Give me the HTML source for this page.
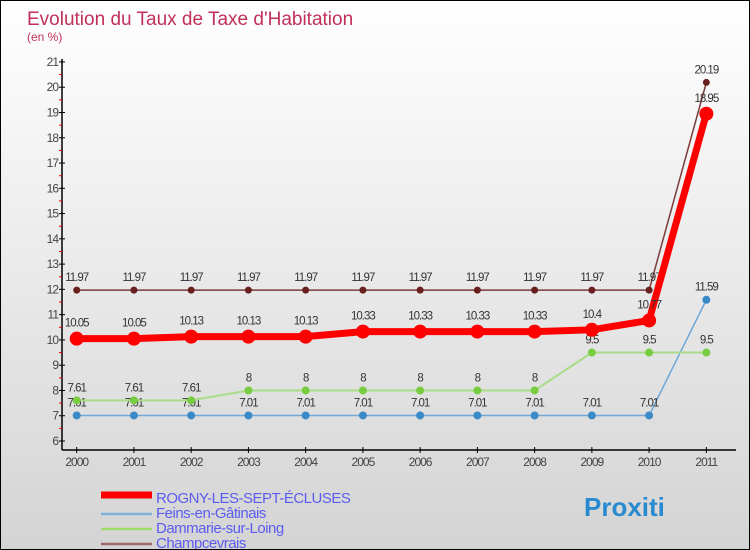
<!DOCTYPE html>
<html><head><meta charset="utf-8"><style>
body{margin:0}
#c{width:750px;height:550px;position:relative;overflow:hidden;background:linear-gradient(#ffffff,#d4d4d4);box-sizing:border-box;border:1px solid #000;font-family:"Liberation Sans",sans-serif}
svg{position:absolute;left:0;top:0}
</style></head><body>
<div id="c">
<svg id="s" width="750" height="550">
<text x="26" y="24" font-size="19" fill="#c0305a">Evolution du Taux de Taxe d'Habitation</text>
<text x="26" y="40" font-size="12" fill="#c0305a">(en %)</text>
</svg>
</div>
<script>
const years=[2000,2001,2002,2003,2004,2005,2006,2007,2008,2009,2010,2011];
const yTicks=[6,7,8,9,10,11,12,13,14,15,16,17,18,19,20,21];
const rogny=[10.05,10.05,10.13,10.13,10.13,10.33,10.33,10.33,10.33,10.4,10.77,18.95];
const feins=[7.01,7.01,7.01,7.01,7.01,7.01,7.01,7.01,7.01,7.01,7.01,11.59];
const dammarie=[7.61,7.61,7.61,8,8,8,8,8,8,9.5,9.5,9.5];
const champ=[11.97,11.97,11.97,11.97,11.97,11.97,11.97,11.97,11.97,11.97,11.97,20.19];
const seriesNames=["ROGNY-LES-SEPT-ÉCLUSES","Feins-en-Gâtinais","Dammarie-sur-Loing","Champcevrais"];
const X=i=>75.7+i*57.24, Y=v=>440-(v-6)*25.27;
const s=document.getElementById('s'),NS='http://www.w3.org/2000/svg';
function mk(t,a,p){const e=document.createElementNS(NS,t);for(const k in a)e.setAttribute(k,a[k]);(p||s).appendChild(e);return e;}
let ax=mk('line',{x1:61,y1:58,x2:61,y2:449,stroke:'#000','stroke-width':1.5});


let bx=mk('line',{x1:61,y1:449,x2:735,y2:449,stroke:'#000','stroke-width':1.5});


yTicks.forEach(v=>{
 mk('line',{x1:58,x2:64,y1:Y(v),y2:Y(v),stroke:'#000'});
 if(v<21)mk('line',{x1:58,x2:61,y1:Y(v+0.5),y2:Y(v+0.5),stroke:'#e00'});
 const t=mk('text',{x:57,y:Y(v)+4,'font-size':12,fill:'#444','text-anchor':'end','letter-spacing':'-1'});t.textContent=v;
 
 
});
years.forEach((y,i)=>{
 mk('line',{x1:X(i),x2:X(i),y1:446,y2:452,stroke:'#000'});
 const t=mk('text',{x:X(i),y:465,'font-size':12,fill:'#444','text-anchor':'middle','letter-spacing':'-1'});t.textContent=y;
 
 
});
function series(d,color,lw,r,dot,name){
 const g=mk('g',{});
 
 
 mk('polyline',{points:d.map((v,i)=>X(i)+','+Y(v)).join(' '),fill:'none',stroke:color,'stroke-width':lw},g);
 d.forEach((v,i)=>{
  const c=mk('circle',{cx:X(i),cy:Y(v),r:r,fill:dot},g);
  
  
  const t=mk('text',{x:X(i),y:Y(v)-9-(r>5?3:0),'font-size':11.5,fill:'#333','text-anchor':'middle','letter-spacing':'-1'},g);t.textContent=v;
  
  
 });
}
series(champ,'#7a3b3b',1.5,3.5,'#6a1f1f','series-champcevrais');
series(feins,'#6fa8d8',1.5,4,'#3a8ac8','series-feins');
series(dammarie,'#a8dc88',2,4,'#78cc40','series-dammarie');
series(rogny,'#f00',7,7,'#f00','series-rogny');
const cols=['#f00','#7fb0d8','#9edc70','#9a6a6a'],ws=[7,2.5,2.5,2.5];
seriesNames.forEach((n,i)=>{
 const y=492+i*15;
 const l=mk('line',{x1:100,x2:151,y1:y+(i?6:2),y2:y+(i?6:2),stroke:cols[i],'stroke-width':ws[i]});
 
 
 const t=mk('text',{x:155,y:y+10,'font-size':15,fill:'#5c5cf0','letter-spacing':'-0.5'});t.textContent=n;
 
 
});
const lg=mk('text',{x:583,y:515,'font-size':26,'font-weight':'bold',fill:'#2a8ad0'});lg.textContent='Proxiti';


</script>
</body></html>
